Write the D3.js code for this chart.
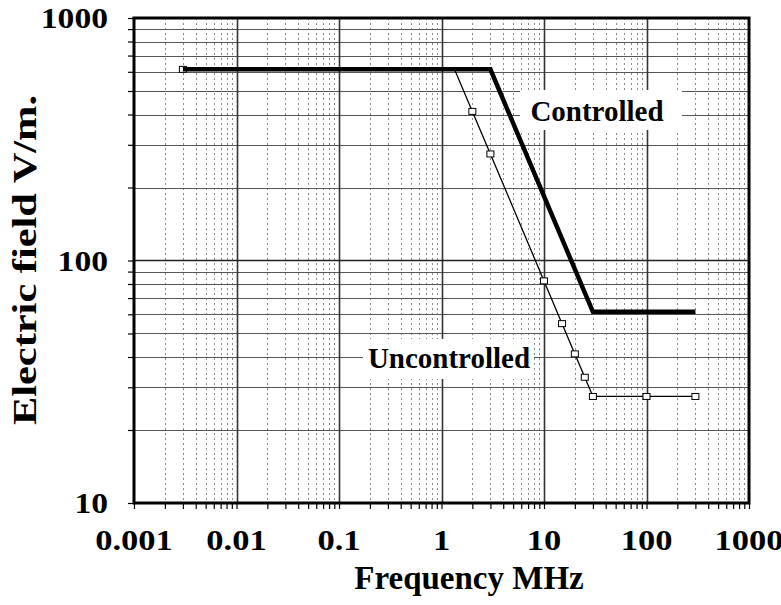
<!DOCTYPE html>
<html>
<head>
<meta charset="utf-8">
<script src="https://cdn.jsdelivr.net/npm/d3@7"></script>
<style>
  html, body { margin: 0; padding: 0; background: #fff; }
  svg { display: block; }
  text { font-family: "Liberation Serif", "Times New Roman", serif; font-weight: bold; fill: #000; }
</style>
</head>
<body>
<svg id="chart" width="781" height="605"></svg>
<script>
// ---- data ----
const controlledFreq = [0.003, 3, 30, 300];
const controlledField = [614, 614, 61.4, 61.4];
const uncontrolledFreq = [0.003, 1.34, 2, 3, 10, 15, 20, 25, 30, 100, 300];
const uncontrolledField = [614, 614, 412, 275, 82.4, 54.9, 41.2, 33, 27.5, 27.5, 27.5];
const uncontrolledMarked = [true, false, true, true, true, true, true, true, true, true, true];
const xTickValues = [0.001, 0.01, 0.1, 1, 10, 100, 1000];
const xTickLabels = ["0.001", "0.01", "0.1", "1", "10", "100", "1000"];
const yTickValues = [10, 100, 1000];
const yTickLabels = ["10", "100", "1000"];
const xTitle = "Frequency MHz";
const yTitle = "Electric field V/m.";
const seriesLabels = ["Controlled", "Uncontrolled"];

// ---- layout ----
const L = 134, R = 749, T = 18, B = 503;
const svg = d3.select("#chart");
const x = d3.scaleLog().domain([0.001, 1000]).range([L, R]);
const y = d3.scaleLog().domain([10, 1000]).range([B, T]);

// minor values
const xMinor = [], yMinor = [];
for (let e = -3; e < 3; e++) for (let k = 2; k <= 9; k++) xMinor.push(k * Math.pow(10, e));
for (let e = 1; e < 3; e++) for (let k = 2; k <= 9; k++) yMinor.push(k * Math.pow(10, e));

const grid = svg.append("g");
grid.selectAll(".vmin").data(xMinor).join("line")
  .attr("x1", d => Math.round(x(d)) + 0.5).attr("x2", d => Math.round(x(d)) + 0.5)
  .attr("y1", T).attr("y2", B)
  .attr("stroke", "#8a8a8a").attr("stroke-width", 1).attr("stroke-dasharray", "2,3");
grid.selectAll(".hmin").data(yMinor).join("line")
  .attr("x1", L).attr("x2", R)
  .attr("y1", d => Math.round(y(d)) + 0.5).attr("y2", d => Math.round(y(d)) + 0.5)
  .attr("stroke", "#555").attr("stroke-width", 1.2);
grid.selectAll(".vmaj").data(xTickValues.slice(1, -1)).join("line")
  .attr("x1", d => Math.round(x(d)) + 0.5).attr("x2", d => Math.round(x(d)) + 0.5)
  .attr("y1", T).attr("y2", B)
  .attr("stroke", "#333").attr("stroke-width", 1.6);
grid.selectAll(".hmaj").data([100]).join("line")
  .attr("x1", L).attr("x2", R)
  .attr("y1", d => Math.round(y(d)) + 0.5).attr("y2", d => Math.round(y(d)) + 0.5)
  .attr("stroke", "#222").attr("stroke-width", 1.6);

// label background boxes
const boxes = [
  { x: 520, y: 90, w: 162, h: 40 },
  { x: 363, y: 339, w: 171, h: 40 }
];
svg.append("g").selectAll("rect").data(boxes).join("rect")
  .attr("x", d => d.x).attr("y", d => d.y).attr("width", d => d.w).attr("height", d => d.h)
  .attr("fill", "#fff");

// axes ticks (outside)
const xAxis = d3.axisBottom(x).tickValues(xTickValues.concat(xMinor)).tickSize(6).tickFormat("");
svg.append("g").attr("transform", `translate(0,${B})`).call(xAxis)
  .call(g => g.select(".domain").remove())
  .call(g => g.selectAll("line").attr("stroke", "#000").attr("stroke-width", 1.2));
const yAxis = d3.axisLeft(y).tickValues(yTickValues.concat(yMinor)).tickSize(6).tickFormat("");
svg.append("g").attr("transform", `translate(${L},0)`).call(yAxis)
  .call(g => g.select(".domain").remove())
  .call(g => g.selectAll("line").attr("stroke", "#000").attr("stroke-width", 1.2));

// tick labels (slightly widened like the reference)
function widen(sel, k) {
  sel.each(function () {
    const w = this.getComputedTextLength();
    d3.select(this).attr("textLength", w * k).attr("lengthAdjust", "spacingAndGlyphs");
  });
}
svg.append("g").selectAll("text").data(xTickValues).join("text")
  .attr("x", d => x(d)).attr("y", 550)
  .attr("text-anchor", "middle").attr("font-size", 30)
  .text((d, i) => xTickLabels[i])
  .call(widen, 1.15);
svg.append("g").selectAll("text").data(yTickValues).join("text")
  .attr("x", 108).attr("y", d => y(d) + 10)
  .attr("text-anchor", "end").attr("font-size", 30)
  .text((d, i) => yTickLabels[i])
  .call(widen, 1.12);

// series
const line = d3.line().x(d => x(d[0])).y(d => y(d[1]));
const uData = uncontrolledFreq.map((f, i) => [f, uncontrolledField[i], uncontrolledMarked[i]]);
const cData = controlledFreq.map((f, i) => [f, controlledField[i]]);

svg.append("path").datum(uData).attr("d", line)
  .attr("fill", "none").attr("stroke", "#000").attr("stroke-width", 1.3);
svg.append("g").selectAll("rect").data(uData.filter(d => d[2])).join("rect")
  .attr("x", d => x(d[0]) - 3.5).attr("y", d => y(d[1]) - 3)
  .attr("width", 7).attr("height", 6)
  .attr("fill", "#fff").attr("stroke", "#000").attr("stroke-width", 1);
svg.append("path").datum(cData).attr("d", line)
  .attr("fill", "none").attr("stroke", "#000").attr("stroke-width", 4.5)
  .attr("stroke-linejoin", "miter");

// frame
svg.append("rect").attr("x", L).attr("y", T).attr("width", R - L).attr("height", B - T)
  .attr("fill", "none").attr("stroke", "#000").attr("stroke-width", 3);

// series labels
svg.append("text").attr("x", 597).attr("y", 121).attr("text-anchor", "middle")
  .attr("font-size", 29).text(seriesLabels[0]);
svg.append("text").attr("x", 449).attr("y", 368).attr("text-anchor", "middle")
  .attr("font-size", 29).text(seriesLabels[1]);

// axis titles
svg.append("text").attr("x", 469).attr("y", 589).attr("text-anchor", "middle")
  .attr("font-size", 33).text(xTitle);
svg.append("text").attr("transform", "translate(36,260) rotate(-90)")
  .attr("text-anchor", "middle").attr("font-size", 34)
  .attr("textLength", 330).attr("lengthAdjust", "spacingAndGlyphs")
  .text(yTitle);
</script>
</body>
</html>
